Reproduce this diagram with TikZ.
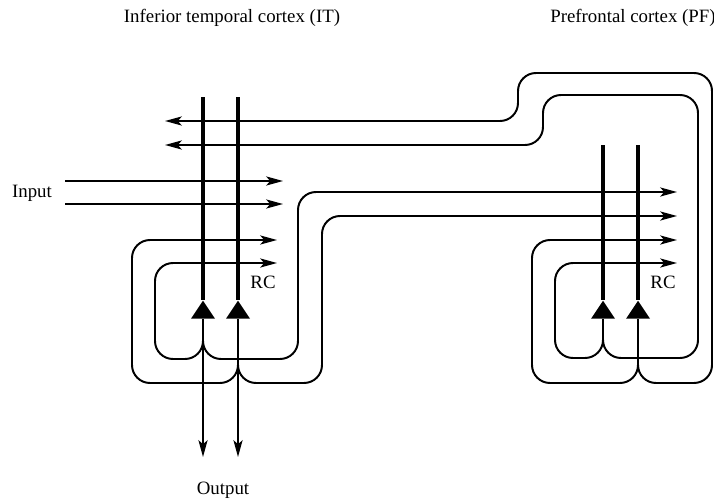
\documentclass[tikz,border=0pt]{standalone}
\usepackage{fontspec}
\setmainfont{Liberation Serif}
\usetikzlibrary{arrows.meta,shapes.geometric}

\begin{document}
\begin{tikzpicture}[x=0.025cm, y=-0.025cm, every node/.style={font=\fontsize{13.4}{16}\selectfont, inner sep=0pt}, fib/.style={line width=1.4pt, rounded corners=4.5mm}, arr/.style={fib, -{Stealth[length=12pt, width=6.5pt, inset=3pt]}}, dend/.style={line width=2.8pt}, cell/.style={isosceles triangle, isosceles triangle stretches, shape border rotate=90, fill=black, minimum width=0.6cm, minimum height=0.45cm}]
	\useasboundingbox (0,0) rectangle (714,499);
	% area titles and labels
	\node (itlab) at (232,18) {Inferior temporal cortex (IT)};
	\node[anchor=west] (pflab) at (550,18) {Prefrontal cortex (PF)};
	\node (inlab) at (32,193) {Input};
	\node (outlab) at (223,490) {Output};
	\node (rcit) at (263,282) {RC};
	\node (rcpf) at (663,282) {RC};
	% pyramidal cells with their apical dendrites
	\foreach \n/\x/\t in {it1/203/97, it2/238/97, pf1/603/145, pf2/638/145} {
		\node[cell, anchor=apex] (\n) at (\x,300) {};
		\draw[dend] (\x,\t) -- (\n.apex);
	}
	% input and output of IT
	\foreach \y in {181,204} {\draw[arr] (65,\y) -- (283,\y);}
	\draw[arr] (it1.lower side) -- (203,457);
	\draw[arr] (it2.lower side) -- (238,457);
	% recurrent collaterals in IT
	\draw[arr] (it1.lower side) -- (203,359) -- (155,359) -- (155,263) -- (277,263);
	\draw[arr] (it2.lower side) -- (238,383) -- (132,383) -- (132,240) -- (277,240);
	% forward projection IT -> PF
	\draw[arr] (it1.lower side) -- (203,359) -- (298,359) -- (298,192) -- (677,192);
	\draw[arr] (it2.lower side) -- (238,383) -- (322,383) -- (322,216) -- (677,216);
	% recurrent collaterals in PF
	\draw[arr] (pf1.lower side) -- (603,358) -- (555,358) -- (555,263) -- (677,263);
	\draw[arr] (pf2.lower side) -- (638,383) -- (532,383) -- (532,240) -- (677,240);
	% backprojection PF -> IT
	\draw[arr] (pf1.lower side) -- (603,358) -- (698,358) -- (698,95) -- (543,95) -- (543,145) -- (165,145);
	\draw[arr] (pf2.lower side) -- (638,383) -- (712,383) -- (712,73) -- (518,73) -- (518,121) -- (165,121);
\end{tikzpicture}
\end{document}
